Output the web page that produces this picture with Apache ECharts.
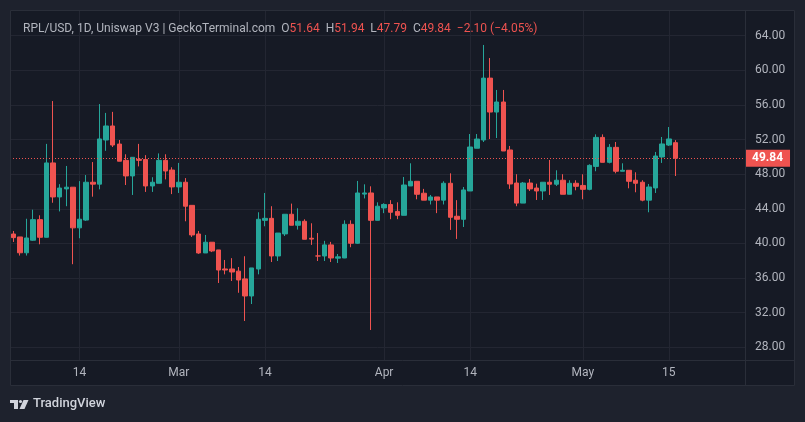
<!DOCTYPE html>
<html><head><meta charset="utf-8">
<script src="https://cdn.jsdelivr.net/npm/echarts@6/dist/echarts.min.js"></script>
<style>html,body{margin:0;padding:0;background:#161A25;}#c{width:805px;height:422px;}</style>
</head><body><div id="c"></div>
<script>
// ---- data ----
const dates = [
'02-04','02-05','02-06','02-07','02-08','02-09','02-10','02-11','02-12','02-13','02-14','02-15','02-16','02-17','02-18','02-19','02-20','02-21','02-22','02-23','02-24','02-25','02-26','02-27','02-28',
'03-01','03-02','03-03','03-04','03-05','03-06','03-07','03-08','03-09','03-10','03-11','03-12','03-13','03-14','03-15','03-16','03-17','03-18','03-19','03-20','03-21','03-22','03-23','03-24','03-25','03-26','03-27','03-28','03-29','03-30','03-31',
'04-01','04-02','04-03','04-04','04-05','04-06','04-07','04-08','04-09','04-10','04-11','04-12','04-13','04-14','04-15','04-16','04-17','04-18','04-19','04-20','04-21','04-22','04-23','04-24','04-25','04-26','04-27','04-28','04-29','04-30',
'05-01','05-02','05-03','05-04','05-05','05-06','05-07','05-08','05-10','05-11','05-12','05-13','05-14','05-15','05-16'];
const futureDates = ['05-17','05-18','05-19','05-20','05-21','05-22','05-23','05-24','05-25','05-26'];
const opens = [41.09,40.75,38.92,40.37,42.75,40.71,49.30,45.37,46.30,46.50,41.80,42.70,47.07,46.85,51.95,53.57,51.48,49.60,47.80,49.72,49.70,46.64,46.95,49.60,48.48,
46.53,47.07,44.40,41.09,38.90,40.14,39.25,37.05,37.05,36.80,35.90,33.93,37.05,42.67,42.90,38.55,41.10,43.37,42.10,42.56,40.60,38.55,38.55,39.83,38.30,38.32,42.21,40.02,45.70,45.83,42.67,
44.10,44.50,43.70,43.25,46.64,47.18,45.80,45.00,45.37,45.00,46.95,43.14,42.79,46.06,51.00,51.95,59.10,55.18,56.34,50.80,46.98,44.66,46.98,46.40,46.06,47.07,46.84,47.30,45.68,46.95,
46.70,46.25,48.90,52.25,49.37,51.10,48.34,48.45,47.30,47.07,45.00,46.41,49.99,51.37,51.64];
const closes = [40.67,38.92,40.63,42.75,40.71,49.30,45.37,46.40,46.50,41.80,42.80,47.07,46.85,52.07,53.57,51.37,49.50,47.80,49.95,49.60,46.64,47.07,49.60,48.37,46.53,
47.07,44.30,40.98,38.90,40.14,39.13,36.93,36.93,36.70,35.78,33.93,37.17,42.79,42.90,38.55,41.20,43.37,42.10,42.56,40.48,40.50,38.55,39.83,38.32,38.45,42.21,40.02,45.83,45.83,42.67,44.30,
44.50,43.60,43.25,46.75,47.18,45.68,45.00,45.37,45.00,46.95,43.02,42.79,46.18,51.14,52.06,59.10,55.18,56.34,50.68,46.87,44.66,46.98,46.30,46.06,47.07,46.84,47.30,45.68,46.95,46.60,
46.25,49.02,52.25,49.37,51.10,48.34,48.45,47.18,46.95,45.00,46.52,50.10,51.49,52.07,49.84];
const lows = [40.17,38.60,38.60,40.30,39.90,40.70,44.70,43.70,44.30,37.60,40.60,42.60,45.40,46.25,50.70,51.14,49.50,46.75,45.60,48.90,45.95,45.95,46.95,47.40,45.70,
45.83,42.56,40.75,38.80,38.90,39.00,35.43,36.43,35.66,34.30,31.04,33.00,36.43,41.98,37.85,37.97,40.86,42.10,41.60,40.48,39.83,37.97,37.97,37.85,37.74,38.30,39.56,39.95,45.20,30.00,42.67,
43.50,42.80,42.80,43.25,46.64,45.10,45.00,44.50,43.50,44.50,41.56,40.52,41.90,46.06,51.00,51.72,52.06,52.18,50.68,46.30,44.30,44.66,46.06,45.02,45.02,45.60,46.64,45.68,45.68,46.14,
45.10,46.14,48.34,49.37,49.25,48.10,48.34,46.37,45.91,44.87,43.60,45.83,49.30,51.26,47.79];
const highs = [41.44,40.75,42.85,43.90,43.25,51.50,56.45,46.85,48.95,46.50,47.20,47.90,49.40,56.10,55.08,55.20,51.95,50.30,49.95,51.50,50.20,47.65,50.40,50.30,48.80,
49.30,47.55,44.40,41.44,40.98,40.14,39.25,38.09,38.30,37.28,38.52,37.17,43.60,45.83,44.30,41.20,43.37,44.60,44.06,42.79,42.33,41.20,40.30,40.18,38.78,42.67,42.67,47.22,46.83,46.60,44.75,
44.64,45.00,44.75,47.68,49.26,47.18,46.30,45.60,45.37,47.18,48.10,45.00,46.52,52.64,52.64,62.93,61.42,57.73,57.73,51.26,48.00,47.10,47.44,46.90,47.07,49.64,48.45,48.00,47.30,47.30,
47.99,49.14,52.60,52.60,51.48,51.72,49.26,48.45,48.22,47.30,46.87,50.57,52.30,53.45,51.94];
const tickDates = ['02-14','03-01','03-14','04-01','04-14','05-01','05-15'];
const tickLabels = ['14','Mar','14','Apr','14','May','15'];
const priceMin = 28, priceMax = 64, priceStep = 4;
const lastPrice = 49.84;
const header = {pair:'RPL/USD, 1D, Uniswap V3 | GeckoTerminal.com', o:'51.64', h:'51.94', l:'47.79', c:'49.84', chg:'\u22122.10 (\u22124.05%)'};

// ---- chart ----
const UP = '#26A69A', DOWN = '#EF5350', TXT = '#B2B5BE', GRID = '#232632', BORDER = '#2A2E39', FRAME = '#1E222D';
const FONT = 'Roboto, "Noto Sans", sans-serif';
const cats = dates.concat(futureDates);
const N = cats.length;
const paneL = 10, paneW = 735;
const band = paneW / N;
const candles = dates.map((d, i) => [opens[i], closes[i], lows[i], highs[i]]);

const chart = echarts.init(document.getElementById('c'), null, {renderer: 'canvas'});
chart.setOption({
  animation: false,
  backgroundColor: '#161A25',
  textStyle: {fontFamily: FONT},
  title: {
    left: 18, top: 18,
    text: '{g|' + header.pair + '  O}{r|' + header.o + '}{g|  H}{r|' + header.h + '}{g|  L}{r|' + header.l + '}{g|  C}{r|' + header.c + '}{r|  ' + header.chg + '}',
    textStyle: {fontWeight: 'normal', rich: {
      g: {color: TXT, fontSize: 12, fontWeight: 'normal', fontFamily: FONT},
      r: {color: DOWN, fontSize: 12, fontWeight: 'normal', fontFamily: FONT}
    }}
  },
  grid: [
    {left: paneL, top: 35.7, width: paneW, height: 311.6},
    {left: paneL + band / 2, top: 10, width: paneW - band, height: 350}
  ],
  xAxis: [
    {type: 'category', gridIndex: 0, data: cats, show: false},
    {type: 'category', gridIndex: 1, data: cats, boundaryGap: false,
     axisLine: {show: false}, axisTick: {show: false},
     axisLabel: {color: TXT, fontSize: 12, fontFamily: FONT, margin: 7,
       interval: (i, v) => tickDates.indexOf(v) >= 0,
       formatter: v => { const k = tickDates.indexOf(v); return k >= 0 ? tickLabels[k] : ''; }},
     splitLine: {show: true, lineStyle: {color: GRID, width: 1},
       interval: (i, v) => tickDates.indexOf(v) >= 0}}
  ],
  yAxis: [
    {type: 'value', gridIndex: 0, position: 'right', min: priceMin, max: priceMax, interval: priceStep,
     axisLine: {show: false}, axisTick: {show: false},
     axisLabel: {color: TXT, fontSize: 12, fontFamily: FONT, margin: 10, formatter: v => v.toFixed(2)},
     splitLine: {lineStyle: {color: GRID, width: 1}}},
    {type: 'value', gridIndex: 1, show: false, min: 0, max: 1}
  ],
  series: [{
    type: 'candlestick', xAxisIndex: 0, yAxisIndex: 0,
    data: candles, barWidth: 5,
    itemStyle: {color: UP, color0: DOWN, borderColor: UP, borderColor0: DOWN, borderWidth: 1},
    markLine: {
      silent: true, symbol: ['none', 'none'],
      lineStyle: {color: DOWN, type: [1, 2], width: 1},
      label: {show: true, position: 'end', distance: 0, formatter: lastPrice.toFixed(2),
        backgroundColor: DOWN, color: '#fff', fontWeight: 'bold', fontSize: 12, fontFamily: FONT,
        padding: [3, 7, 2, 7]},
      data: [{yAxis: lastPrice}]
    }
  }],
  graphic: [
    {type: 'rect', z: 100, shape: {x: 0, y: 0, width: 805, height: 10}, style: {fill: FRAME}},
    {type: 'rect', z: 100, shape: {x: 0, y: 0, width: 10, height: 422}, style: {fill: FRAME}},
    {type: 'rect', z: 100, shape: {x: 795, y: 0, width: 10, height: 422}, style: {fill: FRAME}},
    {type: 'rect', z: 100, shape: {x: 0, y: 386, width: 805, height: 36}, style: {fill: FRAME}},
    {type: 'rect', z: 101, shape: {x: 10.5, y: 10.5, width: 784, height: 375}, style: {fill: 'none', stroke: BORDER, lineWidth: 1}},
    {type: 'line', z: 101, shape: {x1: 745.5, y1: 10, x2: 745.5, y2: 386}, style: {stroke: BORDER, lineWidth: 1}},
    {type: 'line', z: 101, shape: {x1: 10, y1: 360.5, x2: 795, y2: 360.5}, style: {stroke: BORDER, lineWidth: 1}},
    // TradingView logo mark
    {type: 'rect', z: 102, shape: {x: 10, y: 400, width: 8, height: 3}, style: {fill: '#D1D4DC'}},
    {type: 'rect', z: 102, shape: {x: 14, y: 400, width: 4, height: 9}, style: {fill: '#D1D4DC'}},
    {type: 'circle', z: 102, shape: {cx: 20.5, cy: 401.5, r: 1.6}, style: {fill: '#D1D4DC'}},
    {type: 'polygon', z: 102, shape: {points: [[23.5, 400], [28.5, 400], [24.5, 409], [19.5, 409]]}, style: {fill: '#D1D4DC'}},
    {type: 'text', z: 102, left: 33, top: 397, style: {text: 'TradingView', fill: '#D1D4DC', fontSize: 13, fontWeight: 500, fontFamily: FONT}}
  ]
});
</script></body></html>
